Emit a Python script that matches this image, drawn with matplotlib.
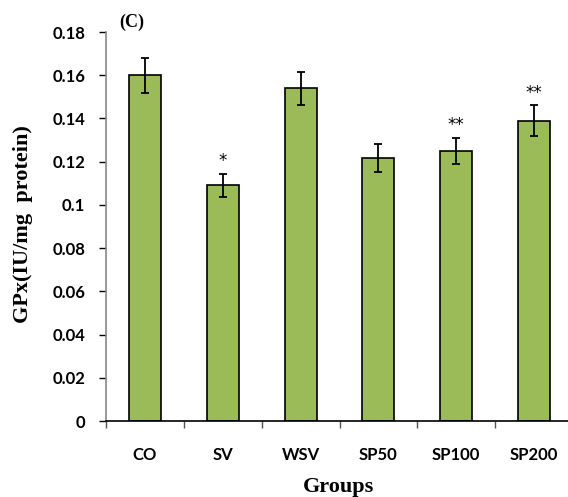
import numpy as np
import matplotlib.pyplot as plt

groups = ['CO', 'SV', 'WSV', 'SP50', 'SP100', 'SP200']
gpx = [0.160, 0.109, 0.154, 0.1215, 0.125, 0.139]
err = [0.008, 0.0053, 0.0076, 0.0065, 0.006, 0.0072]
stars = ['', '*', '', '', '**', '**']
yticks = [0, 0.02, 0.04, 0.06, 0.08, 0.1, 0.12, 0.14, 0.16, 0.18]
ytick_labels = ['0', '0.02', '0.04', '0.06', '0.08', '0.1', '0.12', '0.14', '0.16', '0.18']

fig = plt.figure(figsize=(5.68, 4.97), dpi=100)
ax = fig.add_axes([106 / 568, 1 - 421 / 497, 467 / 568, 389 / 497])

x = np.arange(len(groups))
ax.bar(x, gpx, width=0.41, color='#9BBB59', edgecolor='black', linewidth=1.2,
       yerr=err, capsize=3.2, error_kw=dict(ecolor='black', elinewidth=1.3, capthick=1.3))

for i, s in enumerate(stars):
    if s:
        ax.annotate(s, (x[i], gpx[i] + err[i]), xytext=(0, 9), textcoords='offset points',
                    ha='center', va='center', fontsize=12, family='DejaVu Sans')

ax.set_xlim(-0.5, len(groups) - 0.5)
ax.set_ylim(0, 0.18)
ax.set_yticks(yticks)
ax.set_yticklabels(ytick_labels, family='Lato', fontweight='bold', fontsize=12)
ax.set_xticks(np.arange(-0.5, len(groups), 1.0))
ax.set_xticklabels([])
ax.set_xticks(x, minor=True)
ax.set_xticklabels(groups, minor=True, family='Lato', fontweight='bold', fontsize=12)
ax.tick_params(axis='x', which='major', length=5, width=1, color='#555555', direction='out')
ax.tick_params(axis='x', which='minor', length=0, pad=19)
ax.tick_params(axis='y', length=5, width=1, pad=10)

for side in ['top', 'right']:
    ax.spines[side].set_visible(False)
ax.spines['left'].set_color('#888888')
ax.spines['left'].set_linewidth(1.2)
ax.spines['bottom'].set_linewidth(1.2)

fig.text(23 / 568, 1 - 224 / 497, 'GPx(IU/mg  protein)', rotation=90, ha='center', va='center',
         family='Liberation Serif', fontweight='bold', fontsize=16)
fig.text(339 / 568, 1 - 487 / 497, 'Groups', ha='center', va='center',
         family='Liberation Serif', fontweight='bold', fontsize=16)
fig.text(132 / 568, 1 - 22 / 497, '(C)', ha='center', va='center',
         family='Liberation Serif', fontweight='bold', fontsize=13)

fig.savefig('out.png', dpi=100)
